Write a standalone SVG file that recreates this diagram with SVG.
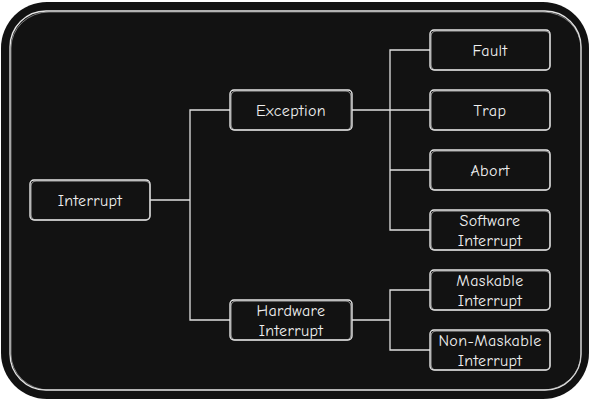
<svg xmlns="http://www.w3.org/2000/svg" width="590" height="400" viewBox="0 0 590 400">
<defs>
<style>
.node rect{fill:#121212;stroke:#e6e6e6;stroke-width:1.4}
.node rect.s{fill:none;stroke:#cfcfcf;stroke-width:0.8}
.node text{fill:#f0f0f0;font-family:"Comic Neue","Liberation Sans",sans-serif;font-size:16px;letter-spacing:0.4px;text-anchor:middle}
#connectors path{fill:none;stroke:#e0e0e0;stroke-width:1.3}
</style>
</defs>
<rect x="0" y="0" width="590" height="400" fill="#ffffff"/>
<rect x="1" y="2" width="588" height="397" rx="46" ry="46" fill="#121212"/>
<rect x="10" y="11" width="571" height="379" rx="36" ry="36" fill="none" stroke="#e6e6e6" stroke-width="1.3"/>
<rect x="11" y="12" width="570" height="378" rx="38" ry="36" fill="none" stroke="#bdbdbd" stroke-width="0.6"/>
<g id="connectors">
<path d="M150 200 H190"/>
<path d="M230 110 H190 V320 H230"/>
<path d="M352 110 H390"/>
<path d="M430 50 H390 V230 H430"/>
<path d="M390 110 H430"/>
<path d="M390 170 H430"/>
<path d="M352 320 H390"/>
<path d="M430 290 H390 V350 H430"/>
</g>
<g id="node-interrupt" class="node">
<rect x="30" y="180" width="120" height="40" rx="4"/>
<rect class="s" x="31" y="181" width="119" height="39" rx="5"/>
<text x="90" y="205.5">Interrupt</text>
</g>
<g id="node-exception" class="node">
<rect x="230" y="90" width="122" height="40" rx="4"/>
<rect class="s" x="231" y="91" width="120" height="39" rx="5"/>
<text x="291" y="115.5">Exception</text>
</g>
<g id="node-hardware" class="node">
<rect x="230" y="300" width="122" height="40" rx="4"/>
<rect class="s" x="231" y="301" width="120" height="39" rx="5"/>
<text x="291" y="315.5">Hardware</text>
<text x="291" y="335.5">Interrupt</text>
</g>
<g id="node-fault" class="node">
<rect x="430" y="30" width="120" height="40" rx="4"/>
<rect class="s" x="431" y="31" width="119" height="39" rx="5"/>
<text x="490" y="55.5">Fault</text>
</g>
<g id="node-trap" class="node">
<rect x="430" y="90" width="120" height="40" rx="4"/>
<rect class="s" x="431" y="91" width="119" height="39" rx="5"/>
<text x="490" y="115.5">Trap</text>
</g>
<g id="node-abort" class="node">
<rect x="430" y="150" width="120" height="40" rx="4"/>
<rect class="s" x="431" y="151" width="119" height="39" rx="5"/>
<text x="490" y="175.5">Abort</text>
</g>
<g id="node-software" class="node">
<rect x="430" y="210" width="120" height="40" rx="4"/>
<rect class="s" x="431" y="211" width="119" height="39" rx="5"/>
<text x="490" y="225.5">Software</text>
<text x="490" y="245.5">Interrupt</text>
</g>
<g id="node-maskable" class="node">
<rect x="430" y="270" width="120" height="40" rx="4"/>
<rect class="s" x="431" y="271" width="119" height="39" rx="5"/>
<text x="490" y="285.5">Maskable</text>
<text x="490" y="305.5">Interrupt</text>
</g>
<g id="node-nonmaskable" class="node">
<rect x="430" y="330" width="120" height="40" rx="4"/>
<rect class="s" x="431" y="331" width="119" height="39" rx="5"/>
<text x="490" y="345.5">Non-Maskable</text>
<text x="490" y="365.5">Interrupt</text>
</g>
</svg>
